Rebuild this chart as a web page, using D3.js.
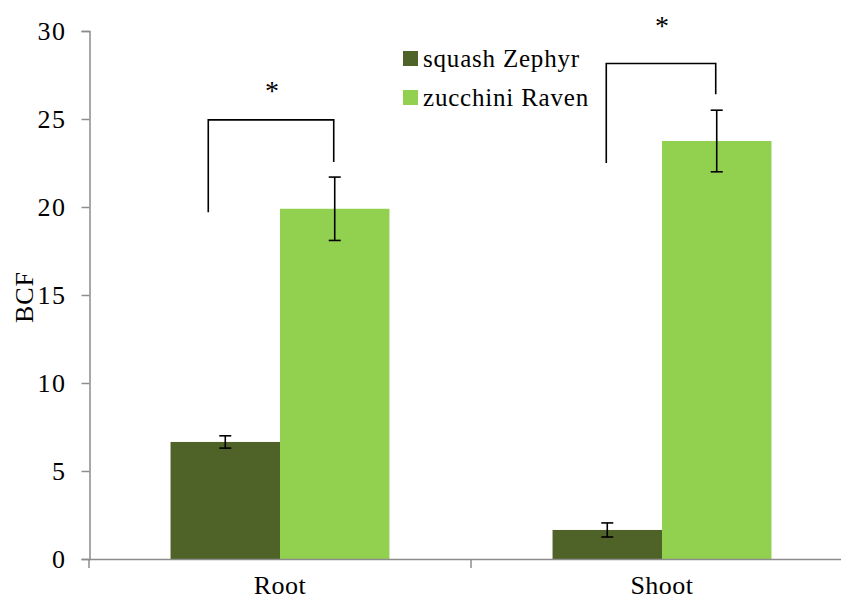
<!DOCTYPE html>
<html>
<head>
<meta charset="utf-8">
<script src="https://cdn.jsdelivr.net/npm/d3@7"></script>
<style>
  body { margin: 0; background: #fff; }
  svg text { font-family: "Liberation Serif", "Times New Roman", serif; fill: #000; }
</style>
</head>
<body>
<div id="chart"></div>
<script>
// data
var categories = ["Root", "Shoot"];
var series = ["squash Zephyr", "zucchini Raven"];
var squashValues = [6.65, 1.65];
var squashErrors = [0.35, 0.4];
var zucchiniValues = [19.9, 23.75];
var zucchiniErrors = [1.8, 1.75];
var yTicks = [0, 5, 10, 15, 20, 25, 30];
// significance brackets: top, left foot, right foot, star level (in BCF units)
var bracketTop = [24.95, 28.15];
var bracketLeftFoot = [19.7, 22.5];
var bracketRightFoot = [22.55, 26.4];
var starLevel = [26.7, 30.4];

var colors = ["#4f6228", "#92d050"];

var width = 841, height = 601;
var svg = d3.select("#chart").append("svg")
    .attr("width", width)
    .attr("height", height);

// scales
var x = d3.scaleBand()
    .domain(categories)
    .range([89, 853])
    .padding(0);

var xSub = d3.scaleBand()
    .domain(series)
    .range([0, x.bandwidth()])
    .paddingInner(0)
    .paddingOuter(0.745);

var y = d3.scaleLinear()
    .domain([0, 30])
    .range([559, 31]);

// build rows from the arrays
var rows = [];
categories.forEach(function(c, i) {
  rows.push({cat: c, s: series[0], v: squashValues[i], e: squashErrors[i], k: 0});
  rows.push({cat: c, s: series[1], v: zucchiniValues[i], e: zucchiniErrors[i], k: 1});
});

// bars
svg.append("g")
  .selectAll("rect")
  .data(rows)
  .enter()
  .append("rect")
  .attr("x", function(d) { return x(d.cat) + xSub(d.s); })
  .attr("y", function(d) { return y(d.v); })
  .attr("width", xSub.bandwidth())
  .attr("height", function(d) { return y(0) - y(d.v); })
  .style("fill", function(d) { return colors[d.k]; });

// y axis
var yAxis = svg.append("g")
  .attr("transform", "translate(89.5,0)")
  .call(d3.axisLeft(y).tickValues(yTicks).tickSize(8).tickPadding(15));
yAxis.select(".domain").attr("stroke", "#8c8c8c").attr("stroke-width", 1.5);
yAxis.selectAll(".tick line").attr("stroke", "#8c8c8c").attr("stroke-width", 1.5);
yAxis.selectAll(".tick text")
  .style("font-size", "26px")
  .style("font-family", "Liberation Serif, serif")
  .attr("letter-spacing", "1.5px");

// x axis line and boundary ticks
svg.append("line")
  .attr("x1", 89).attr("x2", width)
  .attr("y1", y(0) + 0.5).attr("y2", y(0) + 0.5)
  .attr("stroke", "#8c8c8c").attr("stroke-width", 1.5);
svg.append("g")
  .selectAll("line")
  .data(categories.concat(["end"]))
  .enter()
  .append("line")
  .attr("x1", function(d, i) { return x.range()[0] + i * x.step(); })
  .attr("x2", function(d, i) { return x.range()[0] + i * x.step(); })
  .attr("y1", y(0))
  .attr("y2", y(0) + 9)
  .attr("stroke", "#8c8c8c").attr("stroke-width", 1.5);

var xAxis = svg.append("g")
  .attr("transform", "translate(0," + y(0) + ")")
  .call(d3.axisBottom(x).tickSize(0).tickPadding(17));
xAxis.select(".domain").remove();
xAxis.selectAll(".tick text")
  .style("font-size", "26px")
  .style("font-family", "Liberation Serif, serif")
  .attr("letter-spacing", "0.5px");

// y label
svg.append("text")
  .attr("transform", "translate(33," + (y(15) + 2) + ") rotate(-90)")
  .attr("text-anchor", "middle")
  .style("font-size", "26px")
  .attr("letter-spacing", "1px")
  .text("BCF");

// error bars
var cx = function(d) { return x(d.cat) + xSub(d.s) + xSub.bandwidth() / 2; };
var err = svg.append("g").attr("stroke", "#000").attr("stroke-width", 1.6);
err.selectAll(".stem").data(rows).enter().append("line")
  .attr("x1", cx).attr("x2", cx)
  .attr("y1", function(d) { return y(d.v + d.e); })
  .attr("y2", function(d) { return y(d.v - d.e); });
err.selectAll(".capTop").data(rows).enter().append("line")
  .attr("x1", function(d) { return cx(d) - 6; })
  .attr("x2", function(d) { return cx(d) + 6; })
  .attr("y1", function(d) { return y(d.v + d.e); })
  .attr("y2", function(d) { return y(d.v + d.e); });
err.selectAll(".capBot").data(rows).enter().append("line")
  .attr("x1", function(d) { return cx(d) - 6; })
  .attr("x2", function(d) { return cx(d) + 6; })
  .attr("y1", function(d) { return y(d.v - d.e); })
  .attr("y2", function(d) { return y(d.v - d.e); });

// significance brackets
var leftShift = [-17, -1];
var brackets = categories.map(function(c, i) {
  var l = x(c) + xSub(series[0]) + xSub.bandwidth() / 2 + leftShift[i];
  var r = x(c) + xSub(series[1]) + xSub.bandwidth() / 2 - 1;
  return {l: l, r: r, top: bracketTop[i], lf: bracketLeftFoot[i], rf: bracketRightFoot[i], star: starLevel[i]};
});
svg.append("g")
  .selectAll("path")
  .data(brackets)
  .enter()
  .append("path")
  .attr("d", function(d) {
    return "M" + d.l + "," + y(d.lf) + "V" + y(d.top) + "H" + d.r + "V" + y(d.rf);
  })
  .attr("fill", "none")
  .attr("stroke", "#000")
  .attr("stroke-width", 1.6);
svg.append("g")
  .selectAll("text")
  .data(brackets)
  .enter()
  .append("text")
  .attr("x", function(d) { return (d.l + d.r) / 2 + 1; })
  .attr("y", function(d) { return y(d.star) + 11; })
  .attr("text-anchor", "middle")
  .style("font-size", "28px")
  .text("*");

// legend
var legend = svg.append("g")
  .selectAll("g")
  .data(series)
  .enter()
  .append("g")
  .attr("transform", function(d, i) { return "translate(403," + (51 + i * 39) + ")"; });
legend.append("rect")
  .attr("width", 15)
  .attr("height", 15)
  .style("fill", function(d, i) { return colors[i]; });
legend.append("text")
  .attr("x", 20)
  .attr("y", 16)
  .style("font-size", "25px")
  .attr("letter-spacing", "0.8px")
  .text(function(d) { return d; });
</script>
</body>
</html>
